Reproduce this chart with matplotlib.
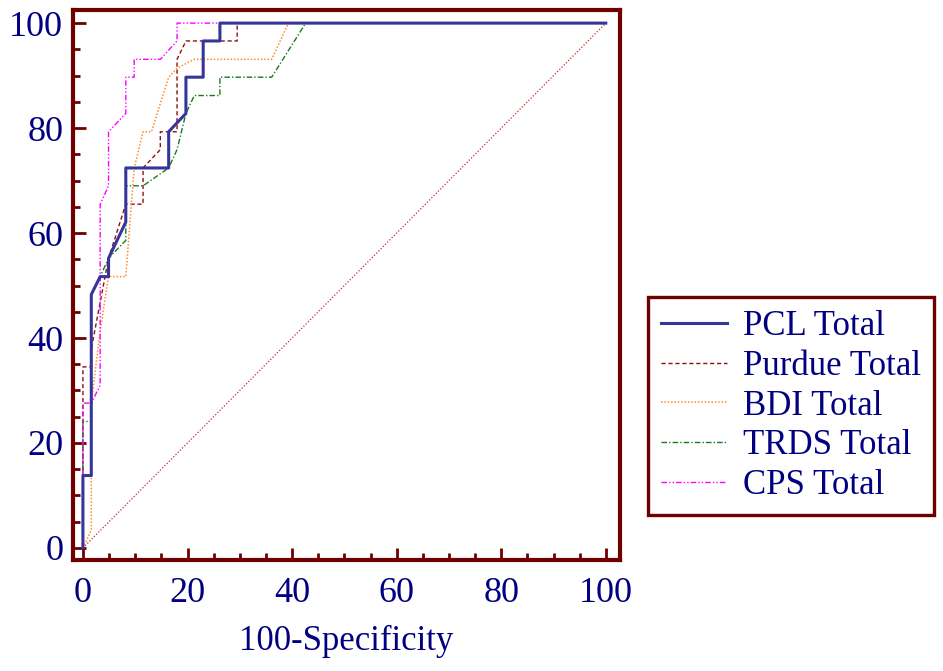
import matplotlib.pyplot as plt

plt.rcParams['font.family'] = ['Liberation Serif', 'DejaVu Serif']

text_color = "#000080"
frame_color = "#6e0000"

# ROC curves: 100-Specificity (x) and Sensitivity (y)
pcl_x = [0, 0, 1.6, 1.6, 3.3, 4.9, 4.9, 8.2, 8.2, 16.4, 16.4, 19.7, 19.7, 23.0, 23.0, 26.2, 26.2, 100]
pcl_y = [0, 13.8, 13.8, 48.3, 51.7, 51.7, 55.2, 62.1, 72.4, 72.4, 79.3, 82.8, 89.7, 89.7, 96.6, 96.6, 100, 100]

purdue_x = [0, 0, 1.6, 1.6, 4.9, 8.2, 11.5, 11.5, 14.8, 14.8, 18.0, 18.0, 19.7, 29.5, 29.5, 100]
purdue_y = [0, 34.5, 34.5, 37.9, 55.2, 65.5, 65.5, 72.4, 75.9, 79.3, 79.3, 93.1, 96.6, 96.6, 100, 100]

bdi_x = [0, 1.6, 1.6, 3.3, 4.9, 8.2, 9.8, 11.5, 13.1, 16.4, 18.0, 21.3, 36.1, 39.3, 100]
bdi_y = [0, 3.4, 27.6, 41.4, 51.7, 51.7, 72.4, 79.3, 79.3, 89.7, 91.4, 93.1, 93.1, 100, 100]

trds_x = [0, 0, 1.6, 1.6, 3.3, 4.9, 8.2, 8.2, 11.5, 16.4, 18.0, 19.7, 21.3, 26.2, 26.2, 36.1, 42.6, 100]
trds_y = [0, 24.1, 24.1, 48.3, 51.7, 55.2, 58.6, 69.0, 69.0, 72.4, 75.9, 82.8, 86.2, 86.2, 89.7, 89.7, 100, 100]

cps_x = [0, 0, 1.6, 3.3, 3.3, 4.9, 4.9, 8.2, 8.2, 9.8, 9.8, 14.8, 18.0, 18.0, 100]
cps_y = [0, 27.6, 27.6, 31.0, 65.5, 69.0, 79.3, 82.8, 89.7, 89.7, 93.1, 93.1, 96.6, 100, 100]

ref_line = [0, 100]

fig = plt.figure(figsize=(9.43, 6.71), dpi=100)
ax = fig.add_axes([0.0774, 0.1654, 0.580, 0.8197])

ax.plot(ref_line, ref_line, color="#b03a2e", linestyle=(0, (1, 1.5)), linewidth=0.9)
ax.plot(purdue_x, purdue_y, color="#8b1010", linestyle=(0, (3, 2)), linewidth=1.0, label="Purdue Total")
ax.plot(bdi_x, bdi_y, color="#ff8c2a", linestyle=(0, (1, 1.2)), linewidth=1.1, label="BDI Total")
ax.plot(trds_x, trds_y, color="#1a7a1a", linestyle=(0, (4, 1.5, 1, 1.5)), linewidth=1.0, label="TRDS Total")
ax.plot(cps_x, cps_y, color="#ff00ff", linestyle=(0, (4, 1.5, 1, 1.5, 1, 1.5)), linewidth=1.0, label="CPS Total")
ax.plot(pcl_x, pcl_y, color="#35359a", linewidth=2.2, label="PCL Total")

ax.set_xlim(-1.9, 102.7)
ax.set_ylim(-2.3, 102.5)
ax.set_xticks(range(0, 101, 20))
ax.set_yticks(range(0, 101, 20))
ax.set_xticks(range(0, 101, 5), minor=True)
ax.set_yticks(range(0, 101, 5), minor=True)
ax.tick_params(which="both", direction="in", color=frame_color, width=2,
               labelsize=26, labelcolor=text_color)
ax.tick_params(which="major", length=9)
ax.tick_params(which="minor", length=5)
ax.tick_params(axis="x", pad=12)
ax.tick_params(axis="y", pad=7)
for sp in ax.spines.values():
    sp.set_color(frame_color)
    sp.set_linewidth(3)

ax.set_xlabel("100-Specificity", fontsize=25, color=text_color, labelpad=11)

handles, labels = ax.get_legend_handles_labels()
order = [4, 0, 1, 2, 3]
leg = fig.legend([handles[i] for i in order], [labels[i] for i in order],
                 loc="upper left", bbox_to_anchor=(0.687, 0.557),
                 fontsize=25, labelcolor=text_color, frameon=True, fancybox=False,
                 framealpha=1, handlelength=1.9, labelspacing=0.19, borderpad=0.38,
                 handletextpad=0.45, borderaxespad=0)
leg.get_frame().set_edgecolor(frame_color)
leg.get_frame().set_linewidth(2.4)

fig.savefig("out.png", dpi=100)
